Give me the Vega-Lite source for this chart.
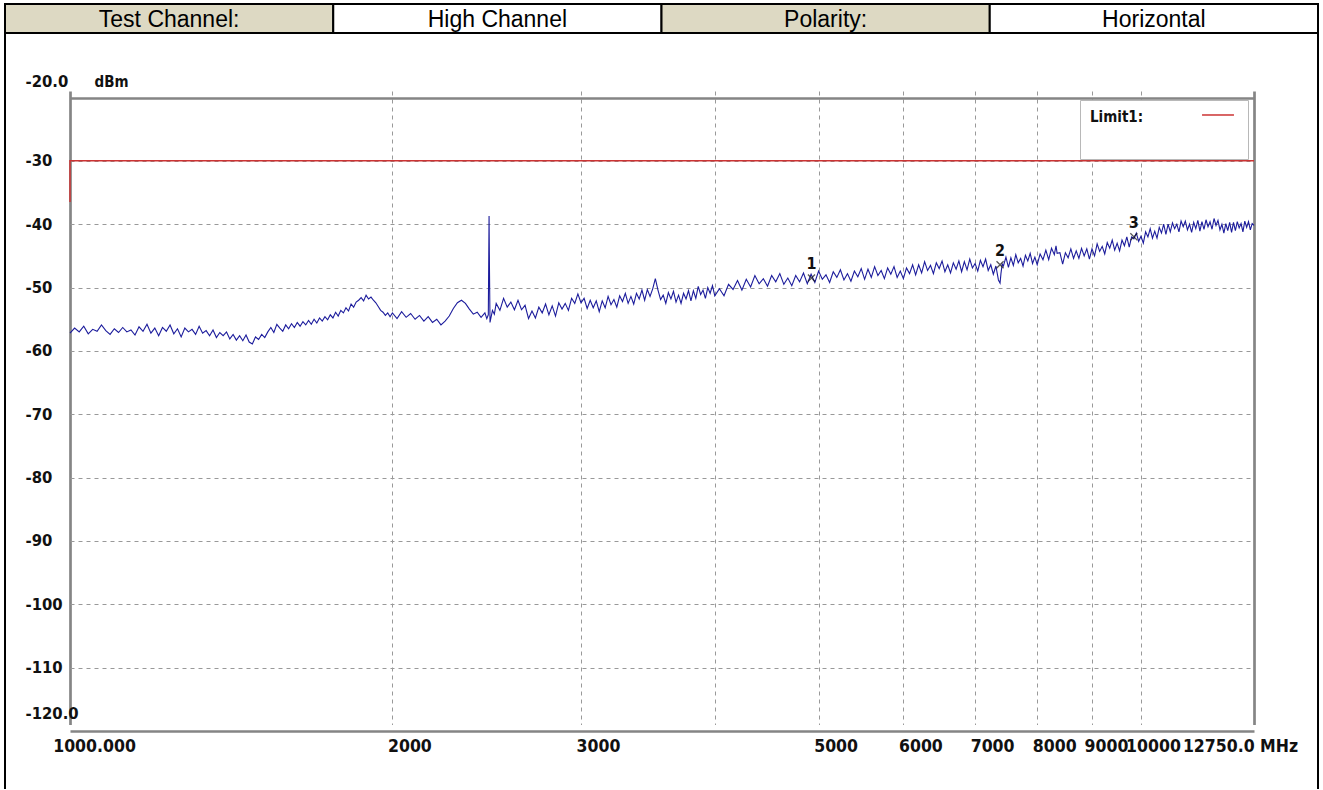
{
  "$schema": "https://vega.github.io/schema/vega-lite/v6.json",
  "padding": {"left": 4, "top": 3, "right": 4, "bottom": 0},
  "background": "white",
  "spacing": 0,
  "bounds": "flush",
  "config": {"view": {"stroke": null}},
  "datasets": {
    "header": [
      {"c": 1, "t": "Test Channel:", "k": "label"},
      {"c": 2, "t": "High Channel", "k": "value"},
      {"c": 3, "t": "Polarity:", "k": "label"},
      {"c": 4, "t": "Horizontal", "k": "value"}
    ],
    "trace": [
      {"f":1000,"v":-57.2},{"f":1010,"v":-56.4},{"f":1020,"v":-57.0},{"f":1030,"v":-56.1},{"f":1040,"v":-57.3},{"f":1050,"v":-56.6},{"f":1060,"v":-56.9},{"f":1070,"v":-55.9},{"f":1080,"v":-56.8},{"f":1090,"v":-57.4},
      {"f":1100,"v":-56.5},{"f":1110,"v":-57.1},{"f":1120,"v":-56.3},{"f":1130,"v":-57.0},{"f":1140,"v":-56.7},{"f":1150,"v":-57.5},{"f":1160,"v":-56.2},{"f":1170,"v":-56.9},{"f":1180,"v":-55.8},{"f":1190,"v":-57.2},
      {"f":1200,"v":-56.4},{"f":1210,"v":-57.6},{"f":1220,"v":-56.3},{"f":1230,"v":-56.9},{"f":1240,"v":-55.9},{"f":1250,"v":-57.3},{"f":1260,"v":-56.5},{"f":1270,"v":-57.8},{"f":1280,"v":-56.4},{"f":1290,"v":-57.0},
      {"f":1300,"v":-56.6},{"f":1310,"v":-57.4},{"f":1320,"v":-56.1},{"f":1330,"v":-57.2},{"f":1340,"v":-56.8},{"f":1350,"v":-57.6},{"f":1360,"v":-56.7},{"f":1370,"v":-57.9},{"f":1380,"v":-57.1},{"f":1390,"v":-57.6},
      {"f":1400,"v":-57.0},{"f":1410,"v":-58.1},{"f":1420,"v":-57.4},{"f":1430,"v":-58.3},{"f":1440,"v":-57.6},{"f":1450,"v":-58.4},{"f":1460,"v":-57.5},{"f":1470,"v":-58.6},{"f":1480,"v":-58.9},{"f":1490,"v":-57.8},
      {"f":1500,"v":-58.2},{"f":1510,"v":-57.4},{"f":1520,"v":-57.9},{"f":1530,"v":-57.0},{"f":1540,"v":-56.3},{"f":1550,"v":-57.1},{"f":1560,"v":-55.8},{"f":1570,"v":-56.4},{"f":1580,"v":-56.9},{"f":1590,"v":-55.9},
      {"f":1600,"v":-56.5},{"f":1610,"v":-55.7},{"f":1620,"v":-56.3},{"f":1630,"v":-55.5},{"f":1640,"v":-56.1},{"f":1650,"v":-55.4},{"f":1660,"v":-55.9},{"f":1670,"v":-55.2},{"f":1680,"v":-55.8},{"f":1690,"v":-55.0},
      {"f":1700,"v":-55.6},{"f":1710,"v":-54.8},{"f":1720,"v":-55.3},{"f":1730,"v":-54.6},{"f":1740,"v":-55.1},{"f":1750,"v":-54.3},{"f":1760,"v":-54.8},{"f":1770,"v":-53.9},{"f":1780,"v":-54.5},{"f":1790,"v":-53.6},
      {"f":1800,"v":-54.0},{"f":1810,"v":-53.2},{"f":1820,"v":-53.7},{"f":1830,"v":-52.6},{"f":1840,"v":-53.1},{"f":1850,"v":-52.3},{"f":1860,"v":-52.0},{"f":1870,"v":-51.6},{"f":1880,"v":-52.1},{"f":1890,"v":-51.2},
      {"f":1900,"v":-51.8},{"f":1910,"v":-51.5},{"f":1920,"v":-52.0},{"f":1930,"v":-52.4},{"f":1940,"v":-53.0},{"f":1950,"v":-53.6},{"f":1960,"v":-53.9},{"f":1970,"v":-54.4},{"f":1980,"v":-54.0},{"f":1990,"v":-54.6},
      {"f":2000,"v":-54.0},{"f":2020,"v":-54.9},{"f":2040,"v":-53.8},{"f":2060,"v":-54.7},{"f":2080,"v":-54.1},{"f":2100,"v":-55.0},{"f":2120,"v":-54.4},{"f":2140,"v":-55.3},{"f":2160,"v":-54.6},{"f":2180,"v":-55.5},
      {"f":2200,"v":-55.0},{"f":2220,"v":-55.9},{"f":2240,"v":-55.3},{"f":2260,"v":-54.5},{"f":2280,"v":-53.3},{"f":2300,"v":-52.4},{"f":2320,"v":-52.0},{"f":2340,"v":-52.5},{"f":2360,"v":-53.4},{"f":2380,"v":-54.2},
      {"f":2400,"v":-53.9},{"f":2420,"v":-54.7},{"f":2440,"v":-54.0},{"f":2450,"v":-54.9},{"f":2458,"v":-54.3},{"f":2462,"v":-38.7},{"f":2464,"v":-46.8},{"f":2467,"v":-55.5},{"f":2480,"v":-53.6},{"f":2490,"v":-54.2},
      {"f":2500,"v":-52.5},{"f":2520,"v":-53.6},{"f":2540,"v":-51.7},{"f":2560,"v":-53.1},{"f":2580,"v":-52.3},{"f":2600,"v":-53.5},{"f":2620,"v":-52.0},{"f":2640,"v":-53.5},{"f":2660,"v":-52.8},{"f":2680,"v":-54.9},
      {"f":2700,"v":-53.7},{"f":2720,"v":-54.8},{"f":2740,"v":-53.1},{"f":2760,"v":-54.0},{"f":2780,"v":-52.6},{"f":2800,"v":-54.3},{"f":2820,"v":-52.9},{"f":2840,"v":-54.5},{"f":2860,"v":-52.4},{"f":2880,"v":-53.4},
      {"f":2900,"v":-52.5},{"f":2920,"v":-53.6},{"f":2940,"v":-51.7},{"f":2960,"v":-52.5},{"f":2980,"v":-51.0},{"f":3000,"v":-52.4},{"f":3020,"v":-51.7},{"f":3040,"v":-53.3},{"f":3060,"v":-52.0},{"f":3080,"v":-53.2},
      {"f":3100,"v":-52.1},{"f":3120,"v":-53.8},{"f":3140,"v":-52.1},{"f":3160,"v":-53.2},{"f":3180,"v":-51.4},{"f":3200,"v":-52.7},{"f":3220,"v":-51.9},{"f":3240,"v":-53.1},{"f":3260,"v":-51.3},{"f":3280,"v":-52.2},
      {"f":3300,"v":-50.9},{"f":3320,"v":-52.5},{"f":3340,"v":-51.4},{"f":3360,"v":-52.6},{"f":3380,"v":-50.9},{"f":3400,"v":-51.8},{"f":3420,"v":-50.4},{"f":3440,"v":-52.0},{"f":3460,"v":-50.3},{"f":3480,"v":-51.4},
      {"f":3500,"v":-50.2},{"f":3520,"v":-48.6},{"f":3540,"v":-50.4},{"f":3560,"v":-51.9},{"f":3580,"v":-51.2},{"f":3600,"v":-52.5},{"f":3620,"v":-50.8},{"f":3640,"v":-51.8},{"f":3660,"v":-50.6},{"f":3680,"v":-52.3},
      {"f":3700,"v":-51.2},{"f":3720,"v":-52.5},{"f":3740,"v":-50.9},{"f":3760,"v":-51.8},{"f":3780,"v":-50.5},{"f":3800,"v":-52.1},{"f":3820,"v":-50.5},{"f":3840,"v":-51.7},{"f":3860,"v":-49.8},{"f":3880,"v":-51.1},
      {"f":3900,"v":-50.4},{"f":3920,"v":-51.7},{"f":3940,"v":-50.0},{"f":3960,"v":-50.9},{"f":3980,"v":-49.7},{"f":4000,"v":-51.3},{"f":4040,"v":-50.2},{"f":4080,"v":-51.3},{"f":4120,"v":-49.5},{"f":4160,"v":-50.3},
      {"f":4200,"v":-48.9},{"f":4240,"v":-50.4},{"f":4280,"v":-48.7},{"f":4320,"v":-49.9},{"f":4360,"v":-48.1},{"f":4400,"v":-49.4},{"f":4440,"v":-48.6},{"f":4480,"v":-49.8},{"f":4520,"v":-48.1},{"f":4560,"v":-49.1},
      {"f":4600,"v":-47.8},{"f":4640,"v":-49.5},{"f":4680,"v":-48.5},{"f":4720,"v":-49.7},{"f":4760,"v":-48.1},{"f":4800,"v":-49.1},{"f":4840,"v":-47.7},{"f":4880,"v":-49.4},{"f":4920,"v":-47.9},{"f":4960,"v":-49.2},
      {"f":5000,"v":-47.4},{"f":5040,"v":-48.7},{"f":5080,"v":-48.0},{"f":5120,"v":-49.2},{"f":5160,"v":-47.5},{"f":5200,"v":-48.4},{"f":5240,"v":-47.2},{"f":5280,"v":-48.8},{"f":5320,"v":-47.8},{"f":5360,"v":-49.0},
      {"f":5400,"v":-47.4},{"f":5440,"v":-48.3},{"f":5480,"v":-47.0},{"f":5520,"v":-48.7},{"f":5560,"v":-47.1},{"f":5600,"v":-48.4},{"f":5640,"v":-46.7},{"f":5680,"v":-48.1},{"f":5720,"v":-47.3},{"f":5760,"v":-48.6},
      {"f":5800,"v":-46.9},{"f":5840,"v":-47.9},{"f":5880,"v":-46.7},{"f":5920,"v":-48.4},{"f":5960,"v":-47.4},{"f":6000,"v":-48.6},{"f":6040,"v":-46.9},{"f":6080,"v":-47.8},{"f":6120,"v":-46.4},{"f":6160,"v":-48.0},
      {"f":6200,"v":-46.4},{"f":6240,"v":-47.7},{"f":6280,"v":-45.9},{"f":6320,"v":-47.3},{"f":6360,"v":-46.5},{"f":6400,"v":-47.8},{"f":6440,"v":-46.1},{"f":6480,"v":-47.0},{"f":6520,"v":-45.8},{"f":6560,"v":-47.5},
      {"f":6600,"v":-46.4},{"f":6640,"v":-47.7},{"f":6680,"v":-46.1},{"f":6720,"v":-47.1},{"f":6760,"v":-45.8},{"f":6800,"v":-47.5},{"f":6840,"v":-45.9},{"f":6880,"v":-47.2},{"f":6920,"v":-45.5},{"f":6960,"v":-46.9},
      {"f":7000,"v":-46.2},{"f":7040,"v":-47.4},{"f":7080,"v":-45.7},{"f":7120,"v":-46.7},{"f":7160,"v":-45.5},{"f":7200,"v":-47.3},{"f":7240,"v":-46.4},{"f":7280,"v":-47.9},{"f":7320,"v":-46.6},{"f":7360,"v":-48.8},
      {"f":7386,"v":-49.3},{"f":7400,"v":-47.8},{"f":7420,"v":-46.3},{"f":7440,"v":-46.6},{"f":7480,"v":-45.2},{"f":7520,"v":-46.8},{"f":7560,"v":-45.3},{"f":7600,"v":-46.5},{"f":7640,"v":-44.8},{"f":7680,"v":-46.1},
      {"f":7720,"v":-45.4},{"f":7760,"v":-46.6},{"f":7800,"v":-44.9},{"f":7840,"v":-45.8},{"f":7880,"v":-44.6},{"f":7920,"v":-46.2},{"f":7960,"v":-45.2},{"f":8000,"v":-46.4},{"f":8050,"v":-44.7},{"f":8100,"v":-45.6},
      {"f":8150,"v":-44.1},{"f":8200,"v":-45.6},{"f":8250,"v":-43.8},{"f":8300,"v":-44.8},{"f":8330,"v":-43.4},{"f":8350,"v":-44.6},{"f":8400,"v":-44.5},{"f":8450,"v":-46.3},{"f":8500,"v":-44.5},{"f":8550,"v":-45.3},
      {"f":8600,"v":-43.9},{"f":8650,"v":-45.4},{"f":8700,"v":-44.2},{"f":8750,"v":-45.4},{"f":8800,"v":-43.8},{"f":8850,"v":-45.0},{"f":8900,"v":-43.9},{"f":8950,"v":-45.5},{"f":9000,"v":-43.9},{"f":9050,"v":-45.0},
      {"f":9100,"v":-43.1},{"f":9150,"v":-44.3},{"f":9200,"v":-43.5},{"f":9250,"v":-44.7},{"f":9300,"v":-42.9},{"f":9350,"v":-43.8},{"f":9400,"v":-42.5},{"f":9450,"v":-44.1},{"f":9500,"v":-43.0},{"f":9550,"v":-44.2},
      {"f":9600,"v":-42.5},{"f":9650,"v":-43.4},{"f":9700,"v":-42.0},{"f":9750,"v":-43.6},{"f":9800,"v":-42.0},{"f":9848,"v":-42.3},{"f":9900,"v":-41.4},{"f":9950,"v":-42.7},{"f":10000,"v":-41.9},{"f":10050,"v":-43.0},
      {"f":10100,"v":-41.2},{"f":10150,"v":-42.0},{"f":10200,"v":-40.7},{"f":10250,"v":-42.2},{"f":10300,"v":-41.1},{"f":10350,"v":-42.2},{"f":10400,"v":-40.5},{"f":10450,"v":-41.4},{"f":10500,"v":-40.0},{"f":10550,"v":-41.6},
      {"f":10600,"v":-40.0},{"f":10650,"v":-41.2},{"f":10700,"v":-39.8},{"f":10750,"v":-40.7},{"f":10800,"v":-40.0},{"f":10850,"v":-41.2},{"f":10900,"v":-39.5},{"f":10950,"v":-40.4},{"f":11000,"v":-39.5},{"f":11050,"v":-40.9},
      {"f":11100,"v":-40.0},{"f":11150,"v":-41.3},{"f":11200,"v":-39.7},{"f":11250,"v":-40.7},{"f":11300,"v":-39.4},{"f":11350,"v":-41.1},{"f":11400,"v":-39.6},{"f":11450,"v":-40.8},{"f":11500,"v":-39.3},{"f":11550,"v":-40.4},
      {"f":11600,"v":-39.6},{"f":11650,"v":-40.8},{"f":11700,"v":-39.1},{"f":11750,"v":-40.2},{"f":11800,"v":-39.4},{"f":11850,"v":-40.9},{"f":11900,"v":-40.0},{"f":11950,"v":-41.4},{"f":12000,"v":-39.9},{"f":12050,"v":-41.0},
      {"f":12100,"v":-39.7},{"f":12150,"v":-41.3},{"f":12200,"v":-39.7},{"f":12250,"v":-41.0},{"f":12300,"v":-39.6},{"f":12350,"v":-40.6},{"f":12400,"v":-39.9},{"f":12450,"v":-41.2},{"f":12500,"v":-39.5},{"f":12550,"v":-40.5},
      {"f":12600,"v":-39.6},{"f":12650,"v":-40.9},{"f":12700,"v":-39.9},{"f":12750,"v":-40.2}
    ],
    "limit": [
      {"f": 1000, "v": -36.5, "o": 0, "name": "Limit1"},
      {"f": 1000, "v": -30, "o": 1, "name": "Limit1"},
      {"f": 12750, "v": -30, "o": 2, "name": "Limit1"}
    ],
    "markers": [
      {"f": 4924, "v": -48.5, "n": "1"},
      {"f": 7386, "v": -46.4, "n": "2"},
      {"f": 9848, "v": -42.0, "n": "3"}
    ]
  },
  "vconcat": [
    {
      "width": 1313,
      "height": 29,
      "data": {"name": "header"},
      "encoding": {
        "x": {"field": "c", "type": "ordinal", "scale": {"paddingInner": 0, "paddingOuter": 0}, "axis": null}
      },
      "layer": [
        {
          "mark": {"type": "rect", "stroke": "black", "strokeWidth": 2},
          "encoding": {
            "fill": {"field": "k", "type": "nominal", "scale": {"domain": ["label", "value"], "range": ["#ddd9c3", "#ffffff"]}, "legend": null}
          }
        },
        {
          "mark": {"type": "text", "fontSize": 23, "font": "Liberation Sans", "color": "black", "dy": 1},
          "encoding": {"text": {"field": "t"}}
        }
      ]
    },
    {
      "width": 1313,
      "height": 756,
      "view": {"stroke": "black", "strokeWidth": 2, "strokeDash": [0, 1313, 756, 1313, 756]},
      "encoding": {
        "x": {
          "field": "f", "type": "quantitative",
          "scale": {"type": "log", "domain": [1000, 12750], "range": [65, 1249], "nice": false},
          "axis": {
            "orient": "bottom", "offset": -58, "title": null,
            "values": [1000, 2000, 3000, 4000, 5000, 6000, 7000, 8000, 9000, 10000, 12750],
            "domain": false, "ticks": false, "tickSize": 0,
            "grid": true,
            "gridColor": {"condition": {"test": "datum.value == 1000 || datum.value == 12750", "value": "#858585"}, "value": "#999999"},
            "gridDash": {"condition": {"test": "datum.value == 1000 || datum.value == 12750", "value": []}, "value": [4, 4]},
            "gridWidth": {"condition": {"test": "datum.value == 1000 || datum.value == 12750", "value": 2.7}, "value": 1},
            "gridOpacity": 1,
            "labelExpr": "datum.value == 1000 ? '1000.000' : datum.value == 12750 ? '12750.0  MHz' : datum.value == 4000 ? '' : '' + datum.value",
            "labelAlign": "center", "labelBaseline": "middle", "labelPadding": 15,
            "labelOffset": {"condition": [{"test": "datum.value == 1000", "value": 24}, {"test": "datum.value == 9000", "value": 14}, {"test": "datum.value == 10000", "value": 12}, {"test": "datum.value == 12750", "value": -14}], "value": 17},
            "labelOverlap": false, "labelFlush": false, "labelBound": false,
            "labelFont": "Liberation Sans Narrow, DejaVu Sans Condensed, sans-serif",
            "labelFontWeight": "bold", "labelFontSize": 17.5, "labelColor": "#111111"
          }
        },
        "y": {
          "field": "v", "type": "quantitative",
          "scale": {"domain": [-120, -20], "range": [698, 64.5], "nice": false, "zero": false},
          "axis": {
            "orient": "left", "offset": -65,
            "values": [-20, -30, -40, -50, -60, -70, -80, -90, -100, -110, -120],
            "domain": false, "ticks": false, "tickSize": 0,
            "grid": true,
            "gridColor": {"condition": {"test": "datum.value == -20 || datum.value == -120", "value": "#858585"}, "value": "#999999"},
            "gridDash": {"condition": {"test": "datum.value == -20 || datum.value == -120", "value": []}, "value": [4, 4]},
            "gridWidth": {"condition": {"test": "datum.value == -20 || datum.value == -120", "value": 2.7}, "value": 1},
            "gridOpacity": 1,
            "labelExpr": "datum.value == -20 ? '-20.0' : datum.value == -120 ? '-120.0' : '-' + abs(datum.value)",
            "labelAlign": "left", "labelBaseline": "middle", "labelPadding": 45,
            "labelOffset": {"condition": [{"test": "datum.value == -20", "value": -16}, {"test": "datum.value == -120", "value": -18}], "value": 0},
            "labelOverlap": false, "labelFlush": false, "labelBound": false,
            "labelFont": "Liberation Sans Narrow, DejaVu Sans Condensed, sans-serif",
            "labelFontWeight": "bold", "labelFontSize": 16.5, "labelColor": "#111111",
            "title": "dBm", "titleAngle": 0, "titleX": 41, "titleY": 48,
            "titleAlign": "center", "titleBaseline": "middle",
            "titleFont": "Liberation Sans Narrow, DejaVu Sans Condensed, sans-serif",
            "titleFontWeight": "bold", "titleFontSize": 15, "titleColor": "#111111"
          }
        }
      },
      "layer": [
        {
          "data": {"name": "trace"},
          "mark": {"type": "line", "color": "#1c1c9c", "strokeWidth": 1.1}
        },
        {
          "data": {"name": "limit"},
          "mark": {"type": "line", "strokeWidth": 1.5},
          "encoding": {
            "order": {"field": "o"},
            "color": {
              "field": "name", "type": "nominal",
              "scale": {"range": ["#cc3333"]},
              "legend": {
                "orient": "none", "legendX": 1075, "legendY": 96,
                "title": "Limit1:", "titleOrient": "left", "titlePadding": 54,
                "titleFont": "Liberation Sans Narrow, DejaVu Sans Condensed, sans-serif",
                "titleFontWeight": "bold", "titleFontSize": 15, "titleColor": "#111111",
                "titleAnchor": "start", "titleBaseline": "top",
                "labelExpr": "''", "labelLimit": 1, "labelOffset": 0,
                "symbolType": "M-0.84,-0.79L0.84,-0.79M0,0.82", "symbolSize": 1444, "symbolStrokeWidth": 1.5,
                "strokeColor": "#b8b8b8", "fillColor": "white", "padding": 10
              }
            }
          }
        },
        {
          "data": {"name": "markers"},
          "mark": {"type": "point", "shape": "M-1,-1L1,1M-1,1L1,-1", "size": 50, "filled": false, "stroke": "#111111", "strokeWidth": 1.3}
        },
        {
          "data": {"name": "markers"},
          "mark": {"type": "text", "dy": -14, "fontSize": 16, "fontWeight": "bold", "font": "Liberation Sans Narrow, DejaVu Sans Condensed, sans-serif", "color": "#111111"},
          "encoding": {"text": {"field": "n"}}
        }
      ]
    }
  ]
}
